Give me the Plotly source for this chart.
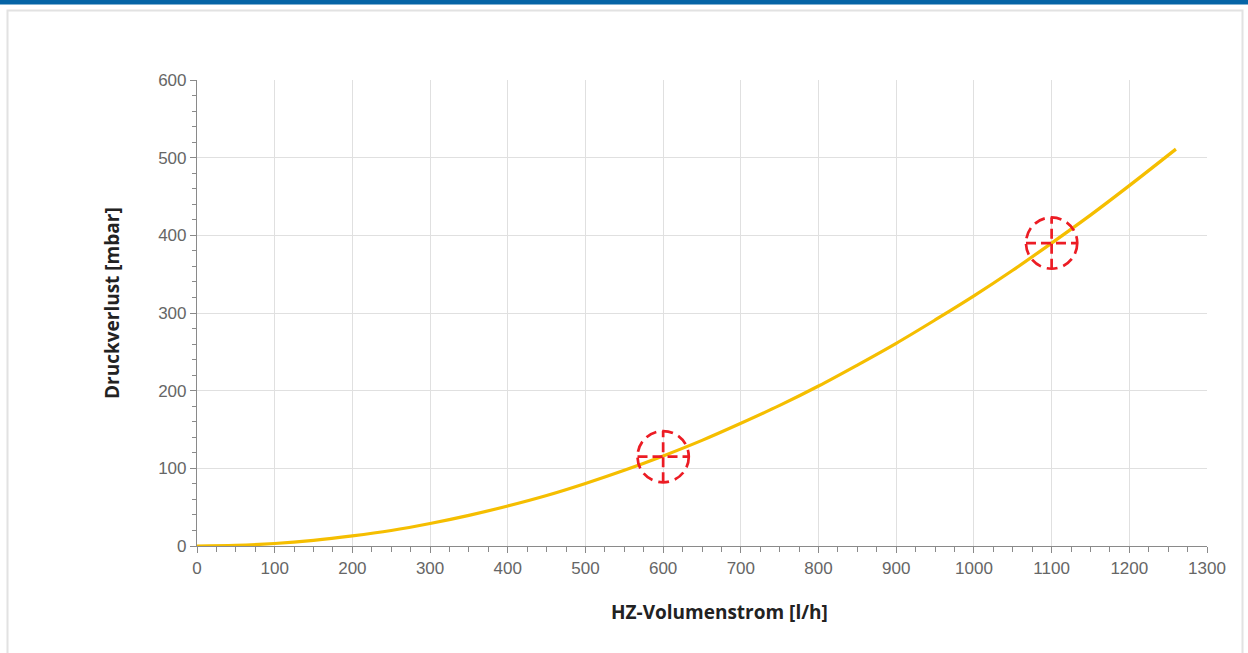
import plotly.graph_objects as go

# Data
flow_lh = [0, 50, 100, 150, 200, 250, 300, 350, 400, 450, 500, 550, 600, 650,
           700, 750, 800, 850, 900, 950, 1000, 1050, 1100, 1150, 1200, 1260]
loss_mbar = [0, 0.8, 3.2, 7.3, 13, 20, 29, 39.5, 51.5, 65, 80.5, 97.5, 116, 136,
             158, 181, 206, 233, 261, 291, 322, 355, 390, 426, 464, 511]

marker_x = [600, 1100]
marker_y = [115, 390]

x_ticks = [0, 100, 200, 300, 400, 500, 600, 700, 800, 900, 1000, 1100, 1200, 1300]
y_ticks = [0, 100, 200, 300, 400, 500, 600]

x_title = "HZ-Volumenstrom [l/h]"
y_title = "Druckverlust [mbar]"

fig = go.Figure()
fig.add_trace(go.Scatter(
    x=flow_lh, y=loss_mbar, mode="lines", line=dict(color="#f5be00", width=3.2, shape="spline"),
    hoverinfo="x+y", showlegend=False))

# margins -> plot area pixels: x 197..1207, y 80..546
L, R, T, B = 197, 41, 80, 107
W, H = 1248, 653
pw, ph = W - L - R, H - T - B

def px(xp):
    return (xp - L) / pw

def py(yp):
    return (H - B - yp) / ph

shapes = []
# top blue bar
shapes.append(dict(type="rect", xref="paper", yref="paper", x0=px(-5), x1=px(W + 5),
                   y0=py(4.5), y1=py(-5), fillcolor="#0564a6", line=dict(width=0), layer="below"))
# light card border
shapes.append(dict(type="rect", xref="paper", yref="paper", x0=px(7.5), x1=px(1242.5),
                   y0=py(H + 20), y1=py(10.5), fillcolor="rgba(0,0,0,0)",
                   line=dict(color="#e2e2e2", width=2), layer="below"))

r_x, r_y = 33, 33
red_c = dict(color="#ec1c24", width=2.7, dash="11px,6px")
red_l = dict(color="#ec1c24", width=2.7, dash="10px,5px")
for cx, cy in zip(marker_x, marker_y):
    shapes.append(dict(type="circle", xref="x", yref="y", x0=cx - r_x, x1=cx + r_x,
                       y0=cy - r_y, y1=cy + r_y, line=red_c))
    shapes.append(dict(type="line", xref="x", yref="y", x0=cx - r_x, x1=cx + r_x,
                       y0=cy, y1=cy, line=red_l))
    shapes.append(dict(type="line", xref="x", yref="y", x0=cx, x1=cx,
                       y0=cy - r_y, y1=cy + r_y, line=red_l))

tick_font = dict(family="Liberation Sans, Arial, sans-serif", size=17, color="#666666")
title_font = dict(family="Open Sans, sans-serif", size=19, color="#222222")

annotations = [
    dict(text="<b>" + x_title + "</b>", xref="paper", yref="paper",
         x=px(719.5), y=py(612), xanchor="center", yanchor="middle",
         showarrow=False, font=title_font),
    dict(text="<b>" + y_title + "</b>", xref="paper", yref="paper",
         x=px(111.5), y=py(303.5), xanchor="center", yanchor="middle",
         showarrow=False, font=title_font, textangle=-90),
]

fig.update_layout(
    width=W, height=H,
    margin=dict(l=L, r=R, t=T, b=B),
    paper_bgcolor="white", plot_bgcolor="white",
    shapes=shapes,
    annotations=annotations,
    showlegend=False,
    xaxis=dict(
        range=[0, 1300], tickvals=x_ticks, ticktext=[str(v) for v in x_ticks],
        showgrid=True, gridcolor="#e0e0e0", gridwidth=1,
        showline=True, linecolor="#8a8a8a", linewidth=1.2,
        ticks="outside", ticklen=6, tickcolor="#8a8a8a", tickwidth=1.2,
        minor=dict(dtick=25, tick0=0, ticks="outside", ticklen=5, tickcolor="#8a8a8a",
                   tickwidth=1, showgrid=False),
        tickfont=tick_font, zeroline=False,
    ),
    yaxis=dict(
        range=[0, 600], tickvals=y_ticks, ticktext=[str(v) for v in y_ticks],
        showgrid=True, gridcolor="#e0e0e0", gridwidth=1,
        showline=True, linecolor="#8a8a8a", linewidth=1.2,
        ticks="outside", ticklen=6, tickcolor="#8a8a8a", tickwidth=1.2,
        minor=dict(dtick=20, tick0=0, ticks="outside", ticklen=4, tickcolor="#8a8a8a",
                   tickwidth=1, showgrid=False),
        tickfont=tick_font, zeroline=False,
    ),
)

fig.write_html("out.html", config={"displayModeBar": False},
               post_script="document.body.style.margin='0';document.body.style.overflow='hidden';")
